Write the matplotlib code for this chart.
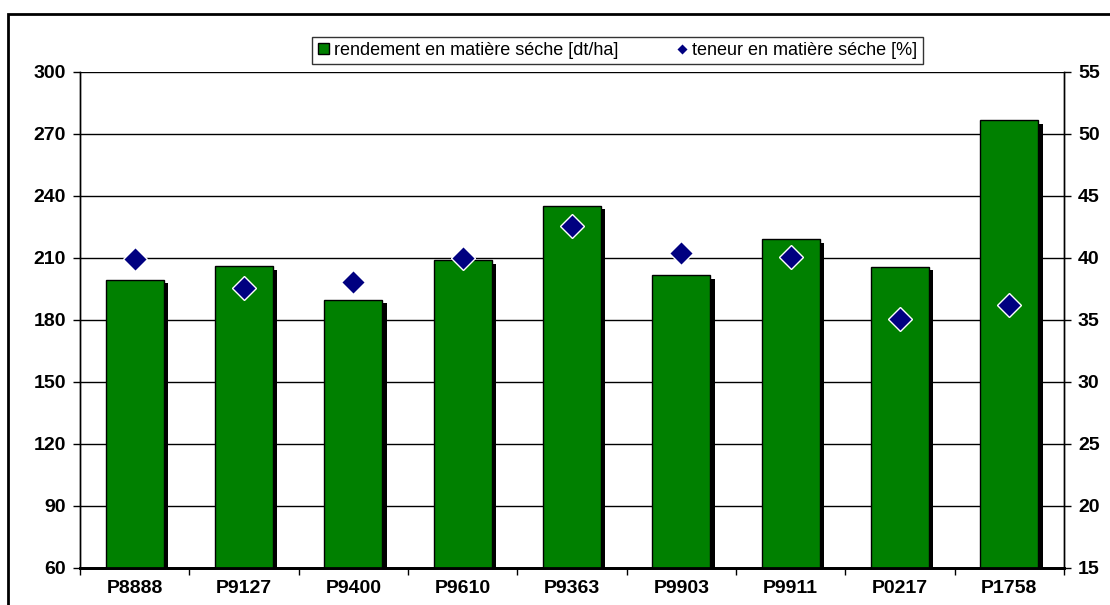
import numpy as np
import matplotlib
matplotlib.use("Agg")
import matplotlib.pyplot as plt
import matplotlib.patheffects as pe
from matplotlib.patches import Rectangle

plt.rcParams['font.family'] = ['Liberation Sans', 'DejaVu Sans']

# data
varieties = ["P8888", "P9127", "P9400", "P9610", "P9363", "P9903", "P9911", "P0217", "P1758"]
rendement = [199.5, 206, 189.7, 209, 235.3, 201.7, 219, 205.8, 276.7]   # dt/ha
teneur = [39.9, 37.6, 38.1, 40.0, 42.6, 40.4, 40.1, 35.1, 36.2]          # %
left_ticks = [60, 90, 120, 150, 180, 210, 240, 270, 300]
right_ticks = [15, 20, 25, 30, 35, 40, 45, 50, 55]

fig = plt.figure(figsize=(11.1, 6.05), dpi=100)
ax = fig.add_axes([0.0721, 0.0612, 0.8865, 0.8198])
ax2 = ax.twinx()

x = np.arange(len(varieties))
bars = ax.bar(x, rendement, width=0.53, bottom=0, color="#008000", edgecolor="black",
              linewidth=1, zorder=3, label="rendement en matière séche [dt/ha]")
for b in bars:
    b.set_path_effects([pe.SimplePatchShadow(offset=(3, -2.5), shadow_rgbFace="black", alpha=1.0),
                        pe.Normal()])

ax2.plot(x, teneur, linestyle="none", marker="D", markersize=12.5, markerfacecolor="#000080",
         markeredgecolor="white", markeredgewidth=1, zorder=4, label="teneur en matière séche [%]")

ax.set_ylim(left_ticks[0], left_ticks[-1])
ax.set_yticks(left_ticks)
ax2.set_ylim(right_ticks[0], right_ticks[-1])
ax2.set_yticks(right_ticks)
ax.set_xlim(-0.5, len(varieties) - 0.5)
ax.set_xticks(x)
ax.set_xticklabels(varieties)
ax.set_xticks(np.arange(len(varieties) + 1) - 0.5, minor=True)
ax.tick_params(axis="x", which="major", length=0, pad=9)
ax.tick_params(axis="x", which="minor", length=5, direction="out", width=1)
ax.tick_params(axis="y", length=5, direction="out", width=1, pad=5)
ax2.tick_params(axis="y", length=5, direction="out", width=1, pad=5)

for lab in ax.get_xticklabels() + ax.get_yticklabels() + ax2.get_yticklabels():
    lab.set_fontsize(14)
    lab.set_fontweight("bold")

ax.yaxis.grid(True, color="black", linewidth=1)
ax.set_axisbelow(True)
ax2.set_zorder(ax.get_zorder() + 1)
ax2.patch.set_visible(False)

for a in (ax, ax2):
    a.spines["top"].set_visible(False)
    a.spines["left"].set_linewidth(1)
    a.spines["right"].set_linewidth(1)
    a.spines["bottom"].set_linewidth(2)

# legend
h1, l1 = ax.get_legend_handles_labels()
h2, l2 = ax2.get_legend_handles_labels()
leg = fig.legend(h1 + h2, l1 + l2, loc="center", bbox_to_anchor=(0.5565, 0.9165), ncol=2,
                 fontsize=13, frameon=True, fancybox=False, edgecolor="black",
                 handlelength=0.6, handleheight=0.6, handletextpad=0.3, columnspacing=3.2,
                 markerscale=0.45, borderpad=0.3, borderaxespad=0)
leg.get_frame().set_linewidth(1)
for p in leg.get_patches():
    p.set_path_effects([])

# outer frame of the chart area
fig.add_artist(Rectangle((0.0072, -0.1), 1.2, 0.9769 + 0.1, transform=fig.transFigure,
                         fill=False, edgecolor="black", linewidth=2))

fig.savefig("out.png", dpi=100)
